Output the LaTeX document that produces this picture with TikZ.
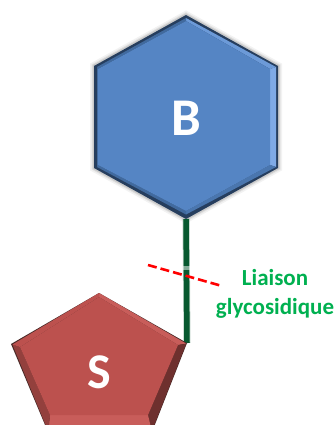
\documentclass[tikz,border=0pt]{standalone}
\usepackage{fontspec}
\setmainfont{Carlito}
\definecolor{hexfill}{HTML}{5585C4}
\definecolor{hexedge}{HTML}{263E5E}
\definecolor{hexdark}{HTML}{416A9E}
\definecolor{hexmid}{HTML}{4A76AE}
\definecolor{hexlight}{HTML}{7FAAE6}
\definecolor{hextop}{HTML}{6C9AD8}
\definecolor{penfill}{HTML}{BC514E}
\definecolor{penedge}{HTML}{4A2A28}
\definecolor{pendark}{HTML}{93403D}
\definecolor{pendeep}{HTML}{6E302E}
\definecolor{penlight}{HTML}{C85D5A}
\definecolor{bondgreen}{HTML}{07592F}
\definecolor{labelgreen}{HTML}{00B050}
\tikzset{
  x=1pt,y=-1pt,
  facet/.style={fill=#1,draw=none},
  shapetext/.style={text=white,font=\bfseries\fontsize{53}{53}\selectfont,inner sep=0pt},
  labeltext/.style={text=labelgreen,font=\bfseries\fontsize{23}{29}\selectfont,align=center,inner sep=0pt},
  bond/.style={draw=bondgreen,line width=5.5pt},
  cutline/.style={draw=red,line width=2.6pt,dash pattern=on 9pt off 4pt},
}
\begin{document}
\begin{tikzpicture}
\useasboundingbox (0,0) rectangle (336,425);
\clip (0,0) rectangle (336,425);
% hexagon vertices
\coordinate (h1) at (186,15);
\coordinate (h2) at (278,66);
\coordinate (h3) at (278,168);
\coordinate (h4) at (186,219);
\coordinate (h5) at (94,168);
\coordinate (h6) at (94,66);
\coordinate (i1) at (186,21);
\coordinate (i2) at (270,69);
\coordinate (i3) at (270,165);
\coordinate (i4) at (186,211);
\coordinate (i5) at (98,165);
\coordinate (i6) at (98,69);
% soft shadow
\foreach \w/\o in {8/0.05,5/0.07,3/0.1}{
  \draw[black,opacity=\o,line width=\w pt,line join=miter] (h1)--(h2)--(h3)--(h4)--(h5)--(h6)--cycle;
}
% pentagon vertices
\coordinate (p1) at (99,293);
\coordinate (p2) at (187,343);
\coordinate (p3) at (152,432);
\coordinate (p4) at (48,432);
\coordinate (p5) at (11,344);
\coordinate (q1) at (99,297);
\coordinate (q2) at (178,345);
\coordinate (q3) at (148,415);
\coordinate (q4) at (50,415);
\coordinate (q5) at (20,347);
% bond
\draw[bondgreen!60,opacity=.5,line width=7pt] (h4) -- (p2);
\draw[bond] (h4) -- (p2);
\draw[draw=white,opacity=.5,line width=7pt] (186,266) -- (186,270);
% hexagon
\fill[hexedge] (h1)--(h2)--(h3)--(h4)--(h5)--(h6)--cycle;
\coordinate (j1) at (186,18);
\coordinate (j2) at (276,67);
\coordinate (j3) at (276,167);
\coordinate (j4) at (186,214.5);
\coordinate (j5) at (97,167);
\coordinate (j6) at (97,67);
\fill[facet=hextop] (j1)--(j2)--(i2)--(i1)--cycle;
\fill[facet=hexlight] (j2)--(j3)--(i3)--(i2)--cycle;
\fill[facet=hexmid] (j3)--(j4)--(i4)--(i3)--cycle;
\fill[facet=hexdark] (j4)--(j5)--(i5)--(i4)--cycle;
\fill[facet=hexdark] (j5)--(j6)--(i6)--(i5)--cycle;
\fill[facet=hexdark] (j6)--(j1)--(i1)--(i6)--cycle;
\fill[facet=hexfill] (i1)--(i2)--(i3)--(i4)--(i5)--(i6)--cycle;
\node[shapetext] (B) at (186,118) {B};
% pentagon
\fill[penedge] (p1)--(p2)--(p3)--(p4)--(p5)--cycle;
\fill[facet=penlight] (p1)--(186,343.5)--(q2)--(q1)--cycle;
\fill[facet=pendeep] (186,344)--(151.5,432)--(q3)--(q2)--cycle;
\fill[facet=penlight] (q3)--(q4)--(48,432)--(152,432)--cycle;
\fill[facet=pendark] (12.5,344.5)--(48.5,432)--(q4)--(q5)--cycle;
\fill[facet=penfill] (p1)--(12.5,344.5)--(q5)--(q1)--cycle;
\fill[facet=penfill] (q1)--(q2)--(q3)--(q4)--(q5)--cycle;
\node[shapetext,font=\bfseries\fontsize{50}{50}\selectfont] (S) at (99,372) {S};
% cut
\coordinate (c1) at (148,265);
\coordinate (c2) at (222,286);
\draw[cutline] (c1) -- (c2);
\node[labeltext] (L) at (275,293.5) {Liaison\\glycosidique};
\end{tikzpicture}
\end{document}
